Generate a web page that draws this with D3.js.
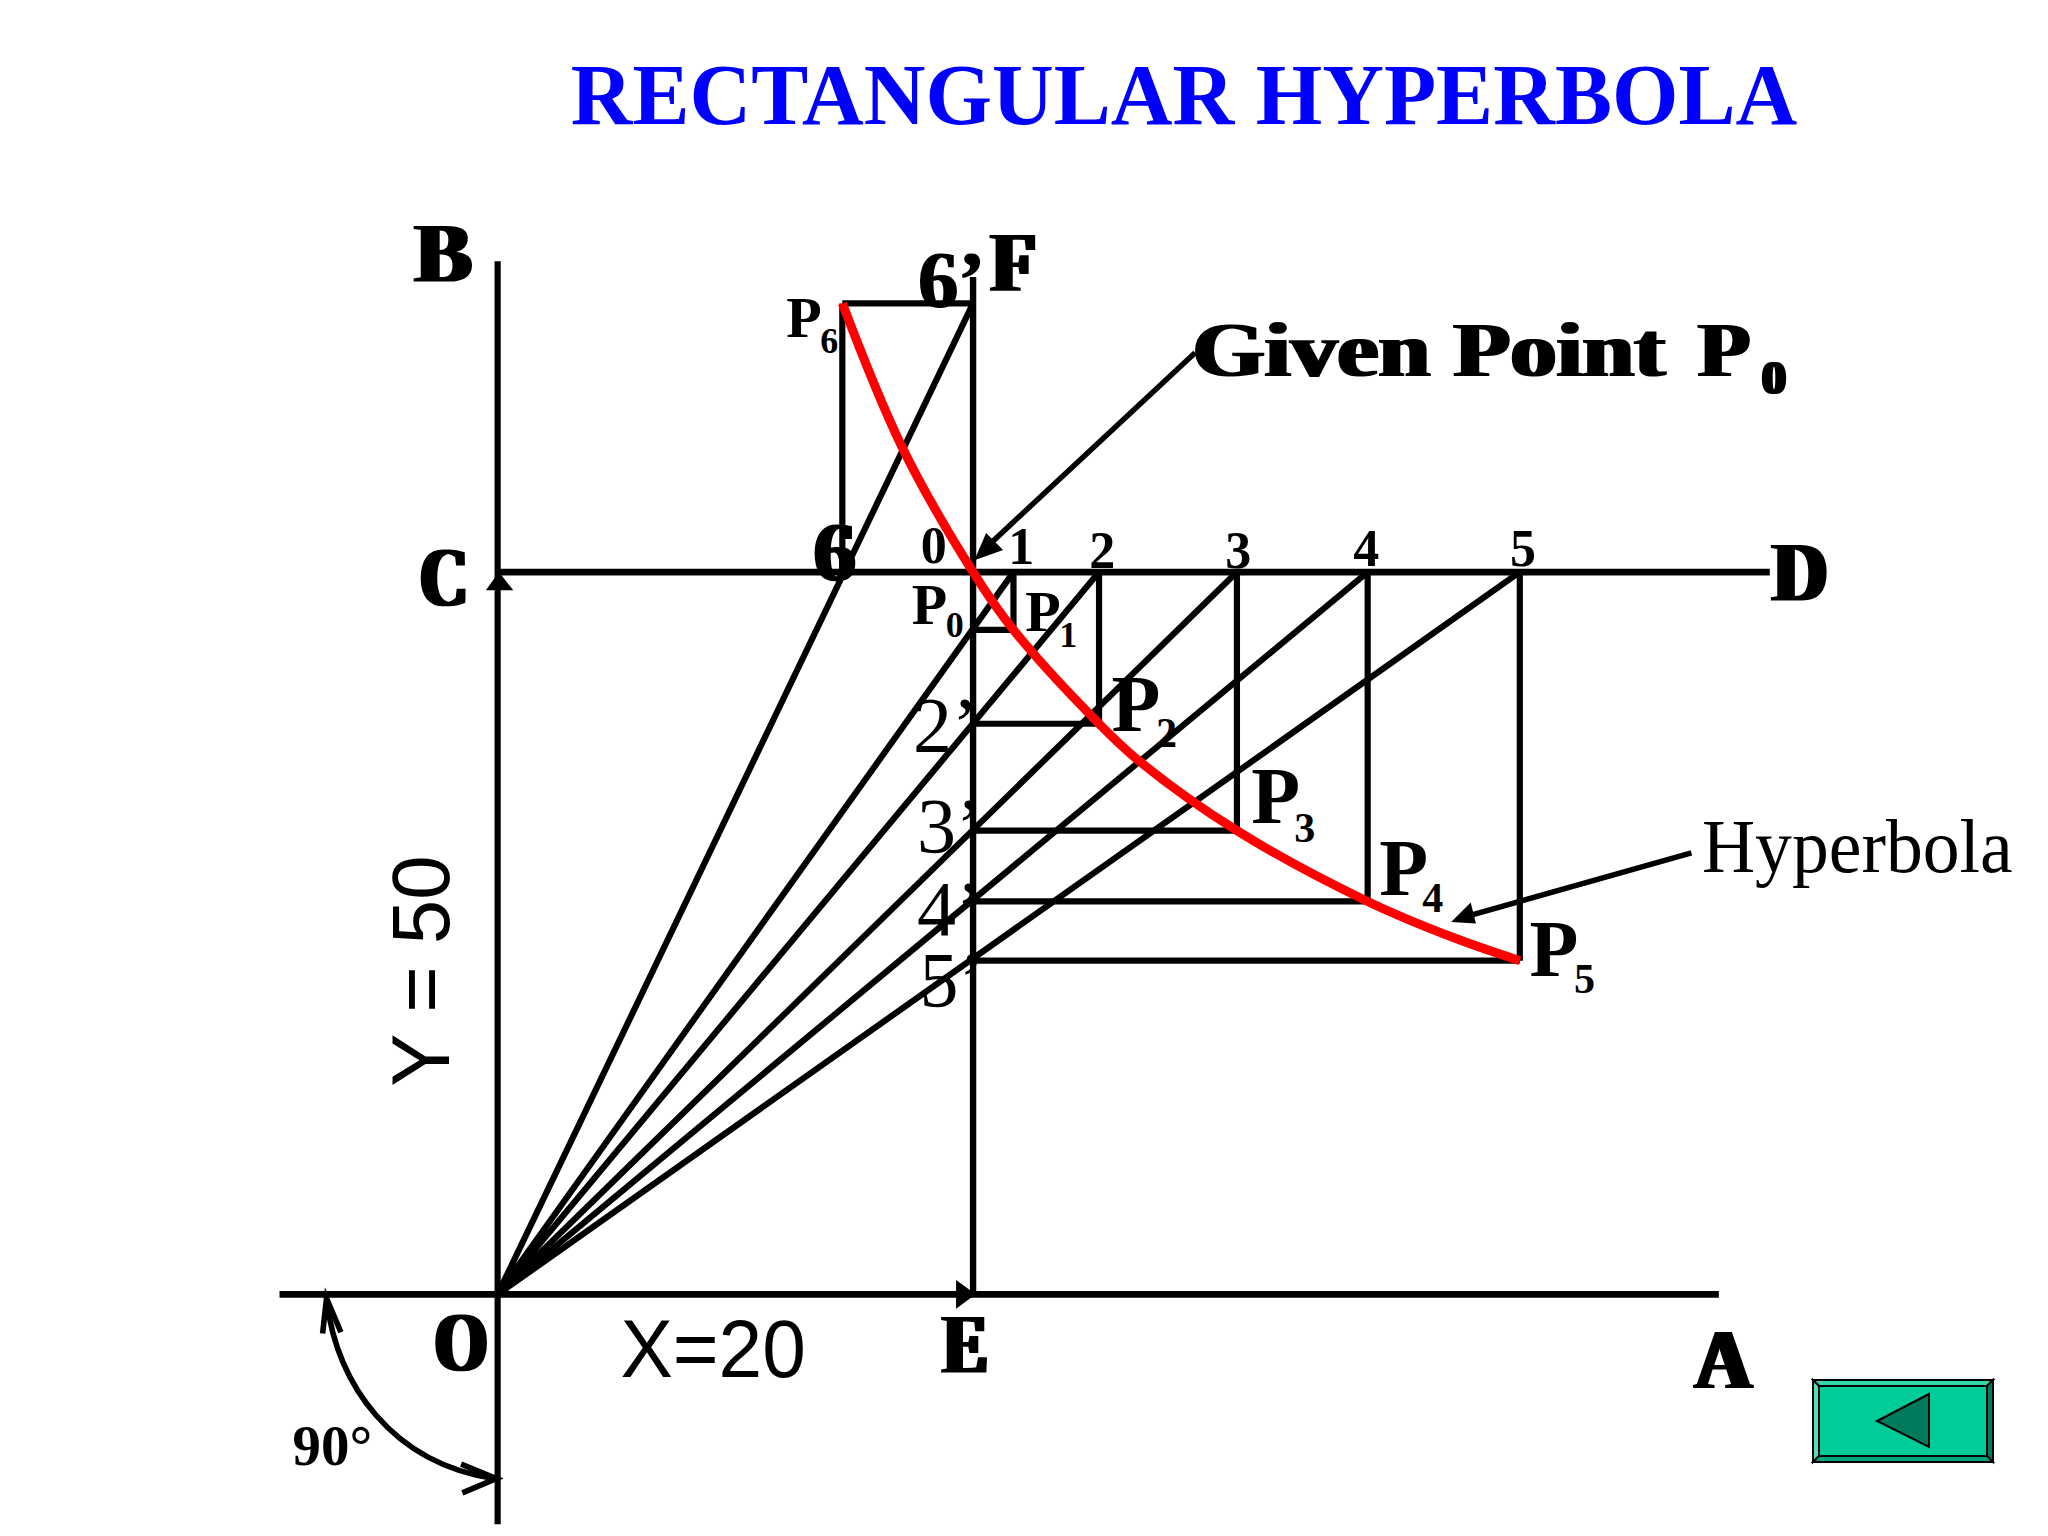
<!DOCTYPE html>
<html><head><meta charset="utf-8">
<script src="https://cdn.jsdelivr.net/npm/d3@7"></script>
<style>html,body{margin:0;padding:0;background:#fff}svg{display:block}</style></head>
<body><svg id="c" width="2048" height="1536">
<defs>
<filter id="fat3" x="-20%" y="-10%" width="140%" height="120%"><feMorphology operator="dilate" radius="3.2 0.3"/></filter>
<filter id="fat2" x="-20%" y="-10%" width="140%" height="120%"><feMorphology operator="dilate" radius="2 0.2"/></filter>
<filter id="fat1" x="-20%" y="-10%" width="140%" height="120%"><feMorphology operator="dilate" radius="1 0.2"/></filter>
</defs></svg>
<script>
// ---- data (X = 20, Y = 50 drawing units) ----
const pointNames = ["0","1","2","3","4","5","6"];
const baseX =  [20, 21.7, 25.3, 31.1, 36.6, 43.0, 14.5];
const primeY = [50, 46.0, 39.5, 32.1, 27.2, 23.1, 68.6];
const curveX = [14.5, 17.0, 20, 21.7, 25.3, 27.0, 31.1, 36.6, 40.2, 43.0];
const curveY = [68.6, 58.7, 50, 46.0, 39.5, 36.9, 32.1, 27.2, 24.7, 23.1];
const lineY = 50;   // line CD
const lineX = 20;   // line EF

const s = 2048/1568, P = v => v*s;
const svg = d3.select("#c");
const x = d3.scaleLinear().domain([0,20]).range([P(381),P(745)]);
const y = d3.scaleLinear().domain([0,50]).range([P(991),P(438)]);
const K="#000", W=6.2;

function seg(x1,y1,x2,y2,w=W,c=K){svg.append("line").attr("x1",x1).attr("y1",y1).attr("x2",x2).attr("y2",y2)
  .attr("stroke",c).attr("stroke-width",w);}
// axes
seg(P(214),y(0),P(1316),y(0),6.6);
seg(x(0),P(200),x(0),P(1167),6.2);
seg(x(0),y(lineY),P(1355),y(lineY),6.6);
seg(x(lineX),y(0),x(lineX),P(212),6.4);
// rays, verticals, horizontals
baseX.forEach((bx,i)=>{
  if(i===0) return;
  if(i===6){ seg(x(0),y(0),x(lineX),y(primeY[6])); }
  else seg(x(0),y(0),x(bx),y(lineY));
  seg(x(bx),y(lineY),x(bx),y(primeY[i]));
  seg(x(lineX),y(primeY[i]),x(bx),y(primeY[i]));
});
// hyperbola
const curve=d3.line().x(i=>x(curveX[i])).y(i=>y(curveY[i])).curve(d3.curveCatmullRom.alpha(0.5));
svg.append("path").attr("d",curve(d3.range(curveX.length))).attr("fill","none").attr("stroke","#ff0000").attr("stroke-width",9);

// arrowheads
function tri(pts,fill=K){svg.append("polygon").attr("points",pts.map(p=>p.map(P).join(",")).join(" ")).attr("fill",fill);}
tri([[732,980],[747,991],[732,1002]]);
tri([[372,452],[382,438],[393,452]]);
seg(P(915),P(270),P(752),P(422),5.4);
tri([[746,429],[755,408],[768,421]]);
seg(P(1295),P(653),P(1125),P(701),5.4);
tri([[1111,706],[1126,691],[1130,707]]);
// 90 degree arc
const a=d3.path(); a.moveTo(P(250),P(995)); a.bezierCurveTo(P(258),P(1060),P(300),P(1120),P(378),P(1132));
svg.append("path").attr("d",a.toString()).attr("fill","none").attr("stroke",K).attr("stroke-width",5.6);
svg.append("path").attr("d",d3.line()([[247,1021],[250,994],[261,1020]].map(p=>p.map(P)))).attr("fill","none").attr("stroke",K).attr("stroke-width",5.6);
svg.append("path").attr("d",d3.line()([[353,1121],[380,1132],[354,1143]].map(p=>p.map(P)))).attr("fill","none").attr("stroke",K).attr("stroke-width",5.6);

// text
function t(str,px,py,o={}){
  const e=svg.append("text").attr("x",P(px)).attr("y",P(py)).text(str)
   .attr("font-family",o.f||"Liberation Serif").attr("font-size",o.size||60)
   .attr("font-weight",o.b===false?"normal":"bold").attr("fill",o.c||K);
  if(o.fat) e.attr("filter",`url(#fat${o.fat})`);
  if(o.len) e.attr("textLength",P(o.len)).attr("lengthAdjust","spacingAndGlyphs");
  if(o.rot) e.attr("transform",`rotate(${o.rot} ${P(px)} ${P(py)})`);
  return e;
}
t("RECTANGULAR HYPERBOLA",437,95,{size:87,c:"#0000ff",len:939});
const heavy={size:84,fat:3};
t("B",318,216,{...heavy,len:43});
t("F",759,223,{...heavy,len:34});
t("C",322,464,{...heavy,len:36});
t("D",1357,460,{...heavy,len:42});
t("O",333,1050,{...heavy,len:40});
t("E",722,1051,{...heavy,len:34});
t("A",1298,1063,{...heavy,len:43});
t("6",623,445,{size:84,fat:2});
t("6’",703,235,{size:80,fat:1});
t("Given Point",913,288,{size:78,fat:2,len:362});
t("P",1300,288,{size:78,fat:2,len:40});
t("0",1349,302,{size:48,fat:2});
t("Hyperbola",1303,668,{size:76,b:false,len:238});
const tops=[[0,705,431],[1,772,432],[2,834,435],[3,938,435],[4,1036,433],[5,1156,433]];
tops.forEach(d=>t(pointNames[d[0]],d[1],d[2],{size:52}));
function sub(name,n,px,py,sx,sy,big,small){
  const e=t(name,px,py,{size:big});
  e.append("tspan").attr("x",P(sx)).attr("y",P(sy)).attr("font-size",small).text(n);
}
sub("P","6",602,258,628,270,58,36);
sub("P","0",698,478,724,488,58,36);
sub("P","1",785,483,811,495,58,36);
sub("P","2",851,560,885,572,80,42);
sub("P","3",958,630,991,645,80,42);
sub("P","4",1056,685,1089,698,80,42);
sub("P","5",1171,747,1205,760,80,42);
[["2’",699,575],["3’",702,652],["4’",702,716],["5’",704,770]].forEach(d=>t(d[0],d[1],d[2],{size:78,b:false}));
t("Y = 50",344,832,{f:"Liberation Sans",size:82,b:false,rot:-90,len:177});
t("X=20",475,1054,{f:"Liberation Sans",size:82,b:false,len:142});
t("90°",224,1122,{size:58,len:61});

// button
const bx=1813,by=1380,bw=180,bh=82,i=6;
const poly=(pts,f)=>svg.append("polygon").attr("points",pts.map(p=>p.join(",")).join(" ")).attr("fill",f).attr("stroke",K).attr("stroke-width",2);
poly([[bx,by],[bx+bw,by],[bx+bw-i,by+i],[bx+i,by+i]],"#33d6ad");
poly([[bx,by],[bx+i,by+i],[bx+i,by+bh-i],[bx,by+bh]],"#4de0ba");
poly([[bx+bw,by],[bx+bw,by+bh],[bx+bw-i,by+bh-i],[bx+bw-i,by+i]],"#007a5c");
poly([[bx,by+bh],[bx+i,by+bh-i],[bx+bw-i,by+bh-i],[bx+bw,by+bh]],"#00a37a");
poly([[bx+i,by+i],[bx+bw-i,by+i],[bx+bw-i,by+bh-i],[bx+i,by+bh-i]],"#00cc99");
poly([[1877,1421],[1929,1394],[1929,1447]],"#007a5c");
</script></body></html>
